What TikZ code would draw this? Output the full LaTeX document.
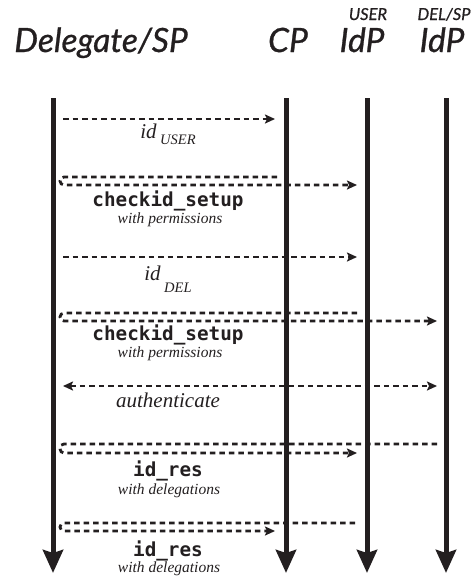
\documentclass[tikz,border=0pt]{standalone}
\usepackage{fontspec}
\setmainfont{Liberation Serif}
\newfontfamily\headfont{Lato}[ItalicFeatures={FakeBold=0.8}]
\newfontfamily\codefont{DejaVu Sans Mono}
\usetikzlibrary{arrows.meta}
\definecolor{ink}{HTML}{231F20}
\begin{document}
\begin{tikzpicture}[x=1pt,y=-1pt,
  life/.style={line width=5pt, draw=ink, -{Stealth[length=23pt,width=20pt,inset=3pt]}},
  msg/.style={line width=2.8pt, draw=ink, dash pattern=on 5.5pt off 4pt, rounded corners=4pt},
  tip/.style={-{Stealth[length=10pt,width=9pt,inset=2pt]}},
  both/.style={{Stealth[length=10pt,width=9pt,inset=2pt]}-{Stealth[length=10pt,width=9pt,inset=2pt]}},
  head/.style={anchor=base, inner sep=0pt, text=ink, font=\headfont\itshape\fontsize{33.5}{33.5}\selectfont},
  smallhead/.style={anchor=base, inner sep=0pt, text=ink, font=\headfont\itshape\fontsize{16.5}{16.5}\selectfont},
  code/.style={anchor=base, inner sep=0pt, text=ink, font=\codefont\bfseries\fontsize{19.3}{19.3}\selectfont},
  note/.style={anchor=base, inner sep=0pt, text=ink, font=\itshape\fontsize{15.5}{15.5}\selectfont},
  big/.style={anchor=base, inner sep=0pt, text=ink, font=\itshape\fontsize{21}{21}\selectfont}
]
\useasboundingbox (0,0) rectangle (473,582);

% headers
\node[head] (hdel) at (101,52) {Delegate/SP};
\node[head] (hcp) at (288,52) {CP};
\node[head] (huidp) at (362,52) {IdP};
\node[head] (hdidp) at (442,52) {IdP};
\node[smallhead] (huser) at (368,20) {USER};
\node[smallhead] (hdelsp) at (444,20) {DEL/SP};

% lifelines
\coordinate (dTop) at (53,98);   \coordinate (dBot) at (53,573);
\coordinate (cTop) at (286,98);  \coordinate (cBot) at (286,573);
\coordinate (uTop) at (367,98);  \coordinate (uBot) at (367,573);
\coordinate (iTop) at (446,98);  \coordinate (iBot) at (446,573);
\draw[life] (dTop) -- (dBot);
\draw[life] (cTop) -- (cBot);
\draw[life] (uTop) -- (uBot);
\draw[life] (iTop) -- (iBot);

% message 1: id USER
\coordinate (m1a) at (63,119); \coordinate (m1b) at (275,119);
\draw[msg,tip] (m1a) -- (m1b);
\node[big] (l1) at (168,138) {id\,\raisebox{-6pt}{\fontsize{14.5}{14.5}\selectfont USER}};

% message 2: checkid_setup
\coordinate (m2a) at (277,177); \coordinate (m2k) at (60,177);
\coordinate (m2l) at (60,185); \coordinate (m2b) at (357,185);
\draw[msg,tip] (m2a) -- (m2k) -- (m2l) -- (m2b);
\node[code] (l2) at (168,206) {checkid\_setup};
\node[note] (l2n) at (170,223) {with permissions};

% message 3: id DEL
\coordinate (m3a) at (63,257); \coordinate (m3b) at (357,257);
\draw[msg,tip] (m3a) -- (m3b);
\node[big] (l3) at (168,280) {id\,\raisebox{-12pt}{\fontsize{14.5}{14.5}\selectfont DEL}};

% message 4: checkid_setup
\coordinate (m4a) at (357,313); \coordinate (m4k) at (60,313);
\coordinate (m4l) at (60,321); \coordinate (m4b) at (437,321);
\draw[msg,tip] (m4a) -- (m4k) -- (m4l) -- (m4b);
\node[code] (l4) at (168,340) {checkid\_setup};
\node[note] (l4n) at (170,357) {with permissions};

% message 5: authenticate
\coordinate (m5a) at (63,386); \coordinate (m5b) at (437,386);
\draw[msg,both] (m5a) -- (m5b);
\node[big] (l5) at (168,407) {authenticate};

% message 6: id_res
\coordinate (m6a) at (437,444); \coordinate (m6k) at (60,444);
\coordinate (m6l) at (60,453); \coordinate (m6b) at (357,453);
\draw[msg,tip] (m6a) -- (m6k) -- (m6l) -- (m6b);
\node[code] (l6) at (168,476) {id\_res};
\node[note] (l6n) at (169,494) {with delegations};

% message 7: id_res
\coordinate (m7a) at (355,523); \coordinate (m7k) at (60,523);
\coordinate (m7l) at (60,531); \coordinate (m7b) at (275,531);
\draw[msg,tip] (m7a) -- (m7k) -- (m7l) -- (m7b);
\node[code] (l7) at (168,556) {id\_res};
\node[note] (l7n) at (169,572) {with delegations};
\end{tikzpicture}
\end{document}
